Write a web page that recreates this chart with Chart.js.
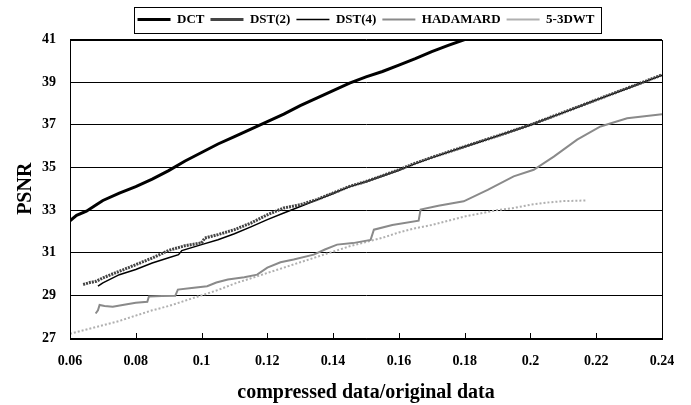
<!DOCTYPE html>
<html>
<head>
<meta charset="utf-8">
<script src="https://cdn.jsdelivr.net/npm/chart.js@4/dist/chart.umd.min.js"></script>
<style>
    html, body { margin: 0; padding: 0; background: #fff; }
    #wrap { width: 691px; height: 405px; }
</style>
</head>
<body>
<div id="wrap"><canvas id="psnrChart" width="691" height="405"></canvas></div>
<script>
// values
const seriesNames = ['DCT', 'DST(2)', 'DST(4)', 'HADAMARD', '5-3DWT'];

const dctX = [0.06, 0.062, 0.065, 0.068, 0.07, 0.075, 0.08, 0.085, 0.09, 0.095, 0.1, 0.105, 0.11, 0.115, 0.12, 0.125, 0.13, 0.135, 0.14, 0.145, 0.15, 0.155, 0.16, 0.165, 0.17, 0.175, 0.18];
const dctY = [32.5, 32.75, 32.95, 33.25, 33.45, 33.8, 34.1, 34.45, 34.85, 35.3, 35.7, 36.1, 36.45, 36.8, 37.15, 37.5, 37.9, 38.25, 38.6, 38.95, 39.25, 39.5, 39.8, 40.1, 40.43, 40.72, 41.0];

const dst2X = [0.064, 0.066, 0.068, 0.07, 0.075, 0.08, 0.085, 0.09, 0.095, 0.1, 0.101, 0.105, 0.11, 0.115, 0.12, 0.125, 0.13, 0.135, 0.14, 0.145, 0.15, 0.16, 0.165, 0.17, 0.18, 0.19, 0.2, 0.21, 0.22, 0.23, 0.24];
const dst2Y = [29.51, 29.6, 29.66, 29.82, 30.13, 30.44, 30.75, 31.11, 31.33, 31.46, 31.69, 31.85, 32.08, 32.39, 32.78, 33.1, 33.25, 33.49, 33.8, 34.11, 34.34, 34.89, 35.2, 35.47, 35.98, 36.48, 37.0, 37.58, 38.17, 38.75, 39.34];

const dst4X = [0.0685, 0.07, 0.075, 0.08, 0.085, 0.09, 0.093, 0.094, 0.1, 0.105, 0.11, 0.115, 0.12, 0.125, 0.13, 0.135, 0.14, 0.145, 0.15, 0.16, 0.165, 0.17, 0.18, 0.19, 0.2, 0.21, 0.22, 0.23, 0.24];
const dst4Y = [29.43, 29.59, 29.97, 30.21, 30.52, 30.76, 30.91, 31.1, 31.38, 31.61, 31.89, 32.21, 32.55, 32.86, 33.17, 33.47, 33.78, 34.1, 34.33, 34.87, 35.18, 35.46, 35.97, 36.47, 36.99, 37.57, 38.16, 38.74, 39.33];

const hadX = [0.0678, 0.0685, 0.069, 0.0705, 0.073, 0.076, 0.08, 0.0835, 0.084, 0.088, 0.092, 0.0928, 0.097, 0.1017, 0.1045, 0.108, 0.113, 0.1169, 0.12, 0.124, 0.128, 0.1341, 0.1375, 0.1412, 0.146, 0.1514, 0.1524, 0.158, 0.166, 0.1666, 0.172, 0.1797, 0.187, 0.1949, 0.201, 0.2071, 0.2142, 0.2213, 0.2294, 0.24];
const hadY = [28.15, 28.3, 28.55, 28.5, 28.47, 28.55, 28.65, 28.7, 28.95, 28.97, 28.98, 29.27, 29.35, 29.43, 29.6, 29.74, 29.85, 29.97, 30.3, 30.55, 30.68, 30.91, 31.15, 31.38, 31.45, 31.6, 32.08, 32.3, 32.5, 33.02, 33.2, 33.41, 33.95, 34.58, 34.89, 35.51, 36.3, 36.92, 37.31, 37.5];

const dwtX = [0.06, 0.065, 0.07, 0.075, 0.08, 0.085, 0.09, 0.095, 0.1, 0.105, 0.11, 0.115, 0.12, 0.125, 0.13, 0.135, 0.14, 0.145, 0.15, 0.155, 0.16, 0.165, 0.17, 0.175, 0.18, 0.185, 0.19, 0.195, 0.2, 0.205, 0.21, 0.217];
const dwtY = [27.2, 27.4, 27.6, 27.8, 28.05, 28.3, 28.5, 28.75, 29.0, 29.25, 29.55, 29.8, 30.05, 30.3, 30.55, 30.8, 31.05, 31.3, 31.5, 31.7, 31.95, 32.15, 32.3, 32.5, 32.7, 32.85, 33.0, 33.1, 33.25, 33.35, 33.42, 33.45];

const xTicks = [0.06, 0.08, 0.1, 0.12, 0.14, 0.16, 0.18, 0.2, 0.22, 0.24];
const yTicks = [27, 29, 31, 33, 35, 37, 39, 41];

const FONT = "'Liberation Serif', 'Times New Roman', serif";

function toPoints(xs, ys) {
    return xs.map((x, i) => ({ x: x, y: ys[i] }));
}

// frame round the plot, inner x tick marks, box round the legend
const framePlugin = {
    id: 'frame',
    afterDraw(chart) {
        const ctx = chart.ctx;
        const area = chart.chartArea;
        const xScale = chart.scales.x;
        ctx.save();
        ctx.strokeStyle = '#000';
        ctx.lineWidth = 1;
        ctx.strokeRect(Math.round(area.left) + 0.5, Math.round(area.top) + 0.5,
            Math.round(area.right - area.left), Math.round(area.bottom - area.top));

        ctx.beginPath();
        xScale.ticks.forEach((t, i) => {
            if (i === 0 || i === xScale.ticks.length - 1) return;
            const px = Math.round(xScale.getPixelForValue(t.value)) + 0.5;
            ctx.moveTo(px, area.bottom);
            ctx.lineTo(px, area.bottom - 5);
        });
        ctx.stroke();

        const hb = chart.legend && chart.legend.legendHitBoxes;
        if (hb && hb.length) {
            const left = Math.min(...hb.map(h => h.left)) - 4;
            const right = Math.max(...hb.map(h => h.left + h.width)) + 6;
            const top = hb[0].top - 6;
            const bottom = hb[0].top + hb[0].height + 7;
            ctx.strokeRect(Math.round(left) + 0.5, Math.round(top) + 0.5,
                Math.round(right - left), Math.round(bottom - top));
        }
        ctx.restore();
    }
};

const ctx = document.getElementById('psnrChart').getContext('2d');

new Chart(ctx, {
    type: 'line',
    data: {
        datasets: [
            {
                label: seriesNames[0],
                data: toPoints(dctX, dctY),
                borderColor: '#000',
                borderWidth: 3
            },
            {
                label: seriesNames[1],
                data: toPoints(dst2X, dst2Y),
                borderColor: '#444',
                borderWidth: 3,
                borderDash: [2, 1]
            },
            {
                label: seriesNames[2],
                data: toPoints(dst4X, dst4Y),
                borderColor: '#000',
                borderWidth: 1.5
            },
            {
                label: seriesNames[3],
                data: toPoints(hadX, hadY),
                borderColor: '#8a8a8a',
                borderWidth: 2
            },
            {
                label: seriesNames[4],
                data: toPoints(dwtX, dwtY),
                borderColor: '#b0b0b0',
                borderWidth: 2,
                borderDash: [2, 2]
            }
        ]
    },
    options: {
        responsive: false,
        animation: false,
        layout: {
            padding: { top: 7, right: 29, bottom: 0, left: 0 }
        },
        elements: {
            point: { radius: 0, hoverRadius: 0 },
            line: { tension: 0, fill: false }
        },
        plugins: {
            tooltip: { enabled: false },
            // empty spacer between legend and plot
            subtitle: {
                display: true,
                text: '',
                weight: 500,
                fullSize: false,
                font: { size: 1 },
                padding: { top: 0, bottom: 2.3 }
            },
            legend: {
                position: 'top',
                fullSize: false,
                labels: {
                    usePointStyle: true,
                    pointStyle: 'line',
                    pointStyleWidth: 33,
                    padding: 6,
                    color: '#000',
                    font: { family: FONT, size: 13, weight: 'bold' }
                }
            }
        },
        scales: {
            x: {
                type: 'linear',
                min: xTicks[0],
                max: xTicks[xTicks.length - 1],
                afterFit(scale) { scale.height = 67; },
                afterBuildTicks(scale) { scale.ticks = xTicks.map(v => ({ value: v })); },
                grid: { display: false, drawTicks: false },
                border: { display: true, color: '#000' },
                ticks: {
                    padding: 15,
                    color: '#000',
                    maxRotation: 0,
                    autoSkip: false,
                    font: { family: FONT, size: 14, weight: 'bold' },
                    callback: v => String(+v.toFixed(2))
                },
                title: {
                    display: true,
                    text: 'compressed data/original data',
                    color: '#000',
                    padding: { top: 0, bottom: 0 },
                    font: { family: FONT, size: 20, weight: 'bold' }
                }
            },
            y: {
                min: yTicks[0],
                max: yTicks[yTicks.length - 1],
                afterFit(scale) { scale.width = 70; },
                afterBuildTicks(scale) { scale.ticks = yTicks.map(v => ({ value: v })); },
                grid: { color: '#000', lineWidth: 1, drawTicks: false },
                border: { display: true, color: '#000' },
                ticks: {
                    padding: 14,
                    color: '#000',
                    font: { family: FONT, size: 14, weight: 'bold' }
                },
                title: {
                    display: true,
                    text: 'PSNR',
                    color: '#000',
                    padding: { top: 14, bottom: 0 },
                    font: { family: FONT, size: 20, weight: 'bold' }
                }
            }
        }
    },
    plugins: [framePlugin]
});
</script>
</body>
</html>
